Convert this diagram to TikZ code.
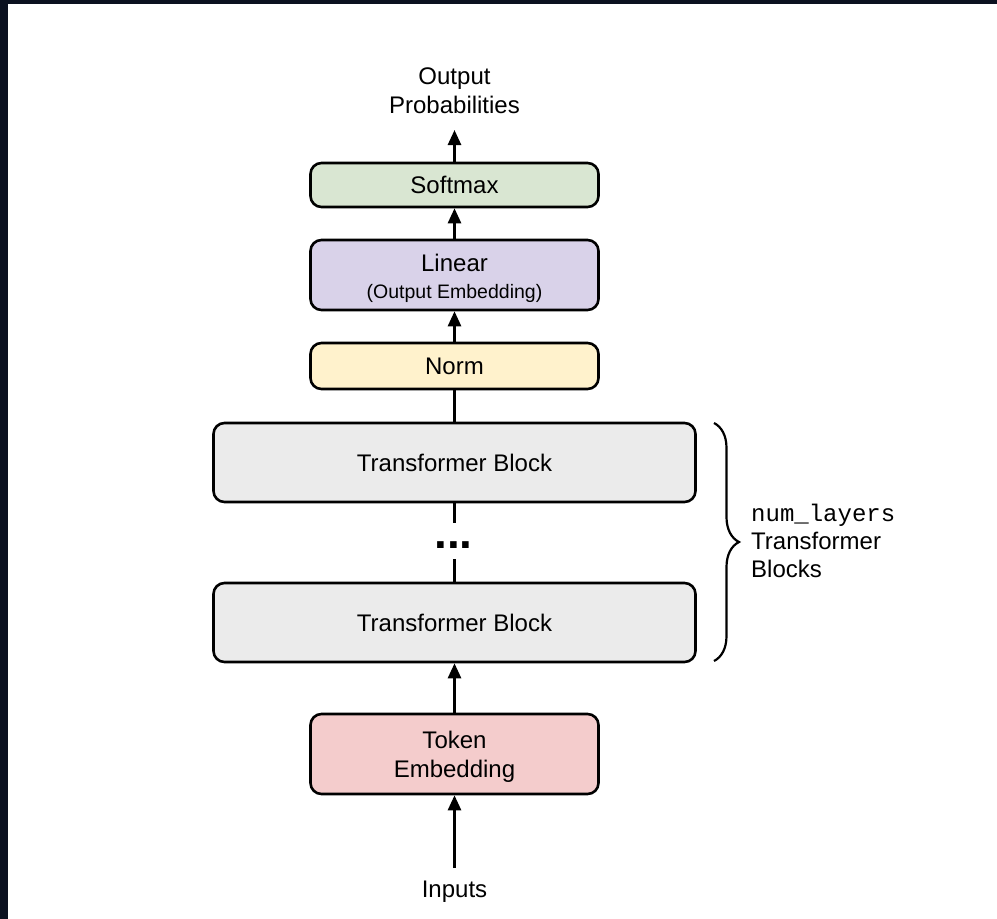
\documentclass[tikz,border=0pt]{standalone}
\usepackage{fontspec}
\setmainfont{Liberation Sans}
\setmonofont{Liberation Mono}
\usetikzlibrary{arrows.meta,decorations.pathreplacing}

\definecolor{frame}{HTML}{0B1120}
\definecolor{smfill}{HTML}{D9E6D2}
\definecolor{linfill}{HTML}{D9D2E9}
\definecolor{normfill}{HTML}{FFF2CC}
\definecolor{tbfill}{HTML}{EBEBEB}
\definecolor{embfill}{HTML}{F4CCCC}

\tikzset{
  layerbox/.style={draw=black, line width=2.6pt, rounded corners=11pt,
    minimum width=288pt, inner sep=0pt, align=center,
    font=\fontsize{24}{29}\selectfont},
  widebox/.style={layerbox, minimum width=482pt, minimum height=79pt},
  lbl/.style={inner sep=1pt, align=center, font=\fontsize{24}{29}\selectfont},
  flow/.style={line width=2.6pt, -{Triangle[width=13pt,length=15pt]}},
  link/.style={line width=2.6pt}
}

\begin{document}
\begin{tikzpicture}[x=1pt,y=-1pt]
  % page frame
  \useasboundingbox (0,0) rectangle (997,919);
  \fill[frame] (0,0) rectangle (997,919);
  \fill[white] (8,4) rectangle (997,919);

  % stack of layers (the struts push two-line labels slightly down)
  \node[layerbox, fill=smfill, minimum height=44pt] (softmax) at (454.5,185) {Softmax};
  \node[layerbox, fill=linfill, minimum height=70pt] (linear) at (454.5,275)
    {\rule{0pt}{24pt}Linear\\[-2pt]{\fontsize{19.5}{23}\selectfont (Output Embedding)}};
  \node[layerbox, fill=normfill, minimum height=46pt] (norm) at (454.5,366) {Norm};
  \node[widebox, fill=tbfill] (tbtop) at (454.5,462.5) {Transformer Block};
  \node[widebox, fill=tbfill] (tbbot) at (454.5,622.5) {Transformer Block};
  \node[layerbox, fill=embfill, minimum height=80pt] (tok) at (454.5,754)
    {\rule{0pt}{22pt}Token\\Embedding};

  % end labels
  \node[lbl] (out) at (454.5,91) {Output\\Probabilities};
  \node[lbl] (inputs) at (454.5,892) {Inputs};
  \coordinate (outtip) at (454.5,130);
  \coordinate (intail) at (454.5,868);

  % elided blocks
  \node[anchor=base, inner sep=0pt, font=\fontsize{46}{50}\selectfont\bfseries] (dots) at (453.5,548) {...};
  \coordinate (gapA) at (454.5,523);
  \coordinate (gapB) at (454.5,559);

  % connectors
  \draw[flow] (intail) -- (tok.south);
  \draw[flow] (tok.north) -- (tbbot.south);
  \draw[link] (gapB) -- (tbbot.north);
  \draw[link] (tbtop.south) -- (gapA);
  \draw[link] (norm.south) -- (tbtop.north);
  \draw[flow] (norm.north) -- (linear.south);
  \draw[flow] (linear.north) -- (softmax.south);
  \draw[flow] (softmax.north) -- (outtip);

  % repetition brace
  \coordinate (braceTop) at (714,423);
  \coordinate (braceBot) at (714,661);
  \draw[line width=2.2pt, decorate, decoration={brace, amplitude=25pt}] (braceTop) -- (braceBot);
  \node[anchor=west, align=left, inner sep=0pt, font=\fontsize{24}{28}\selectfont] (count) at (751,541)
    {{\ttfamily num\_layers}\\Transformer\\Blocks};
\end{tikzpicture}
\end{document}
